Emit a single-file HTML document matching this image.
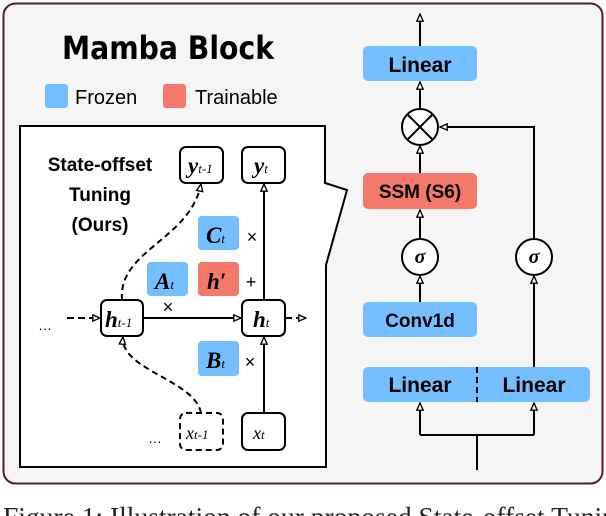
<!DOCTYPE html>
<html><head><meta charset="utf-8"><style>
html,body{margin:0;padding:0;background:#fff;width:606px;height:516px;overflow:hidden}
</style></head><body>
<svg width="606" height="516" viewBox="0 0 606 516" xmlns="http://www.w3.org/2000/svg" style="font-family:'Liberation Sans',sans-serif">
<defs>
<marker id="a" viewBox="0 0 10 10" refX="9" refY="5" markerWidth="9" markerHeight="9" orient="auto" markerUnits="userSpaceOnUse">
<path d="M1,1.5 L9,5 L1,8.5 Z" fill="#fff" stroke="#000" stroke-width="1.5"/></marker>
</defs>
<rect x="3.5" y="3.5" width="599" height="480" rx="12" fill="#f5f5f5" stroke="#5a1838" stroke-width="2"/>
<text x="168" y="59" font-size="32" font-weight="bold" text-anchor="middle" style="font-family:'DejaVu Sans',sans-serif" textLength="212" lengthAdjust="spacingAndGlyphs">Mamba Block</text>
<rect x="45" y="84" width="23" height="24" rx="3" fill="#74bfff"/>
<text x="75" y="104" font-size="20">Frozen</text>
<rect x="163" y="84" width="23" height="24" rx="3" fill="#f5796b"/>
<text x="195" y="104" font-size="20">Trainable</text>

<path d="M20,126 L325,126 L325,183 L347,190 L326,265 L326,467 L20,467 Z" fill="#fff" stroke="#000" stroke-width="2"/>
<g font-size="19" font-weight="bold" text-anchor="middle">
<text x="100" y="171">State-offset</text>
<text x="100" y="201">Tuning</text>
<text x="100" y="231">(Ours)</text>
</g>
<g fill="#fff" stroke="#000" stroke-width="2">
<rect x="180" y="147" width="43" height="36" rx="6"/>
<rect x="242" y="147" width="43" height="36" rx="6"/>
<rect x="101" y="300" width="42" height="36" rx="6"/>
<rect x="242" y="300" width="43" height="36" rx="6"/>
<rect x="180" y="413" width="43" height="37" rx="6" stroke-dasharray="6,4"/>
<rect x="242" y="413" width="43" height="37" rx="6"/>
</g>
<rect x="198" y="216" width="41" height="34" rx="4" fill="#74bfff"/>
<rect x="147" y="262" width="41" height="34" rx="4" fill="#74bfff"/>
<rect x="198" y="262" width="41" height="34" rx="4" fill="#f5796b"/>
<rect x="198" y="341" width="41" height="35" rx="4" fill="#74bfff"/>
<g style="font-family:'Liberation Serif',serif;font-weight:bold;font-style:italic" font-size="23">
<text x="188" y="173">y<tspan font-size="13" style="font-weight:normal">t-1</tspan></text>
<text x="254" y="173">y<tspan font-size="13" style="font-weight:normal">t</tspan></text>
<text x="206" y="243">C<tspan font-size="13" style="font-weight:normal">t</tspan></text>
<text x="155" y="289">A<tspan font-size="13" style="font-weight:normal">t</tspan></text>
<text x="207" y="289">h′</text>
<text x="105" y="327">h<tspan font-size="13" style="font-weight:normal">t-1</tspan></text>
<text x="253" y="327">h<tspan font-size="13" style="font-weight:normal">t</tspan></text>
<text x="206" y="368">B<tspan font-size="13" style="font-weight:normal">t</tspan></text>
<text x="186" y="439" font-size="18" style="font-weight:normal">x<tspan font-size="13">t-1</tspan></text>
<text x="253" y="439" font-size="18" style="font-weight:normal">x<tspan font-size="13">t</tspan></text>
</g>
<g font-size="18" text-anchor="middle">
<text x="252" y="243">×</text>
<text x="251" y="288">+</text>
<text x="168" y="313">×</text>
<text x="250" y="368">×</text>
<text x="45" y="330" font-size="14">…</text>
<text x="155" y="443" font-size="14">…</text>
</g>
<g fill="none" stroke="#000" stroke-width="2">
<line x1="143" y1="318" x2="241" y2="318" marker-end="url(#a)"/>
<line x1="67" y1="318" x2="100" y2="318" stroke-dasharray="7,4" marker-end="url(#a)"/>
<line x1="285" y1="318" x2="306" y2="318" stroke-dasharray="7,4" marker-end="url(#a)"/>
<line x1="264" y1="413" x2="264" y2="337" marker-end="url(#a)"/>
<line x1="264" y1="300" x2="264" y2="184" marker-end="url(#a)"/>
<path d="M122,300 C118,250 190,240 201,184" stroke-dasharray="6,4" marker-end="url(#a)"/>
<path d="M201,413 C195,380 120,370 123,337" stroke-dasharray="6,4" marker-end="url(#a)"/>
</g>

<rect x="363" y="46" width="114" height="35" rx="5" fill="#74bfff"/>
<rect x="363" y="173" width="114" height="36" rx="5" fill="#f5796b"/>
<rect x="363" y="302" width="114" height="35" rx="5" fill="#74bfff"/>
<rect x="363" y="367" width="227" height="35" rx="5" fill="#74bfff"/>
<line x1="477" y1="367" x2="477" y2="402" stroke="#000" stroke-width="2" stroke-dasharray="6,4"/>
<g font-size="21" font-weight="bold" text-anchor="middle">
<text x="420" y="72">Linear</text>
<text x="420" y="198" font-size="19">SSM (S6)</text>
<text x="420" y="327" font-size="19">Conv1d</text>
<text x="420" y="392">Linear</text>
<text x="534" y="392">Linear</text>
</g>
<g fill="none" stroke="#000" stroke-width="2">
<line x1="420" y1="46" x2="420" y2="14" marker-end="url(#a)"/>
<line x1="420" y1="109" x2="420" y2="82" marker-end="url(#a)"/>
<line x1="420" y1="173" x2="420" y2="146" marker-end="url(#a)"/>
<line x1="420" y1="239" x2="420" y2="210" marker-end="url(#a)"/>
<line x1="420" y1="302" x2="420" y2="276" marker-end="url(#a)"/>
<line x1="534" y1="367" x2="534" y2="276" marker-end="url(#a)"/>
<path d="M534,239 L534,127 L440,127" marker-end="url(#a)"/>
<path d="M477,470 L477,435"/>
<path d="M420,435 L534,435"/>
<line x1="420" y1="435" x2="420" y2="403" marker-end="url(#a)"/>
<line x1="534" y1="435" x2="534" y2="403" marker-end="url(#a)"/>
<circle cx="420" cy="127" r="18" fill="#fff"/>
<line x1="407" y1="114" x2="433" y2="140"/><line x1="433" y1="114" x2="407" y2="140"/>
<circle cx="420" cy="257" r="18" fill="#fff"/>
<circle cx="534" cy="257" r="18" fill="#fff"/>
</g>
<g style="font-family:'Liberation Serif',serif;font-weight:bold;font-style:italic" font-size="20" text-anchor="middle">
<text x="420" y="263">σ</text>
<text x="534" y="263">σ</text>
</g>
<text x="3" y="526" font-size="27.5" style="font-family:'Liberation Serif',serif" fill="#222">Figure 1: Illustration of our proposed State-offset Tuning</text>
</svg>
</body></html>
